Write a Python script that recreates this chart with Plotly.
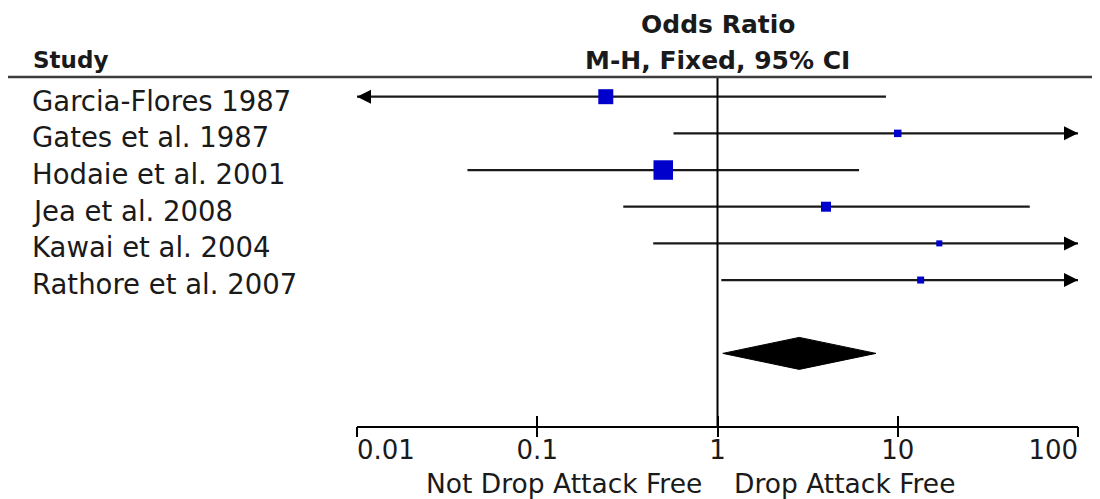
import numpy as np
import plotly.graph_objects as go

# ---- data ----
studies = ["Garcia-Flores 1987", "Gates et al. 1987", "Hodaie et al. 2001",
           "Jea et al. 2008", "Kawai et al. 2004", "Rathore et al. 2007"]
odds_ratio = [0.24, 10.0, 0.50, 4.0, 17.0, 13.4]
ci_lower = [0.0066, 0.57, 0.041, 0.30, 0.44, 1.05]
ci_upper = [8.6, 174.0, 6.1, 54.0, 660.0, 171.0]
weight_pct = [26.6, 6.6, 44.9, 11.8, 4.3, 5.8]

total_or = 2.84
total_lower = 1.07
total_upper = 7.57

tick_vals = [0.01, 0.1, 1, 10, 100]
tick_text = ["0.01", "0.1", "1", "10", "100"]

header_left = "Study"
header_title = "Odds Ratio"
header_sub = "M-H, Fixed, 95% CI"
favours_left = "Not Drop Attack Free"
favours_right = "Drop Attack Free"

# ---- layout constants ----
OFF = 8  # default page margin of the html body
W, H = 1100 - OFF, 499 - OFF
ML, MR, MT, MB = 357 - OFF, 22, 77 - OFF, 73
PW = W - ML - MR
PH = H - MT - MB
X_MIN, X_MAX = 0.01, 100
Y_TOP, Y_BOT = -0.537, 8.98
TOTAL_ROW = 7
FONT = "DejaVu Sans"
TXT = "#1a1a1a"
NB = "\u00a0"

def px_to_paper_x(px):
    return (px - OFF - ML) / PW

def px_to_paper_y(py):
    return 1 - (py - OFF - MT) / PH

# end labels kept inside the axis like the reference
shown_ticks = list(tick_text)
shown_ticks[0] = NB * 7 + shown_ticks[0]
shown_ticks[-1] = shown_ticks[-1] + NB * 6

rows = list(range(len(studies)))
fig = go.Figure()

# line of no effect
fig.add_trace(go.Scatter(x=[1, 1], y=[Y_TOP, Y_BOT], mode="lines",
                         line=dict(color="black", width=2), xaxis="x2",
                         hoverinfo="skip", showlegend=False))

# CI lines, clipped to the axis range
for r, lo, hi in zip(rows, ci_lower, ci_upper):
    fig.add_trace(go.Scatter(x=[max(lo, X_MIN), min(hi, X_MAX)], y=[r, r],
                             mode="lines", line=dict(color="#1a1a1a", width=2.2),
                             hoverinfo="skip", showlegend=False))

# arrows where CI exceeds range
left_rows = [r for r, lo in zip(rows, ci_lower) if lo < X_MIN]
right_rows = [r for r, hi in zip(rows, ci_upper) if hi > X_MAX]
fig.add_trace(go.Scatter(x=[X_MIN] * len(left_rows), y=left_rows, mode="markers",
                         marker=dict(symbol="arrow-left", size=14, color="black",
                                     opacity=1, line=dict(width=0)),
                         cliponaxis=False, hoverinfo="skip", showlegend=False))
fig.add_trace(go.Scatter(x=[X_MAX] * len(right_rows), y=right_rows, mode="markers",
                         marker=dict(symbol="arrow-right", size=14, color="black",
                                     opacity=1, line=dict(width=0)),
                         cliponaxis=False, hoverinfo="skip", showlegend=False))

# weighted squares
sizes = [2.91 * np.sqrt(w) for w in weight_pct]
fig.add_trace(go.Scatter(x=odds_ratio, y=rows, mode="markers",
                         marker=dict(symbol="square", size=sizes, color="#0000CC",
                                     opacity=1, line=dict(width=0)),
                         hoverinfo="skip", showlegend=False))

# pooled diamond
h = 0.436
fig.add_trace(go.Scatter(x=[total_lower, total_or, total_upper, total_or, total_lower],
                         y=[TOTAL_ROW, TOTAL_ROW - h, TOTAL_ROW, TOTAL_ROW + h, TOTAL_ROW],
                         mode="lines", fill="toself", fillcolor="black",
                         line=dict(color="black", width=1),
                         hoverinfo="skip", showlegend=False))

annotations = []
for r, s in zip(rows, studies):
    annotations.append(dict(text=s, xref="paper", yref="y", x=px_to_paper_x(30), y=r,
                            xanchor="left", yanchor="middle", yshift=-4, showarrow=False,
                            font=dict(family=FONT, size=27.5, color=TXT)))
annotations += [
    dict(text="<b>%s</b>" % header_left, xref="paper", yref="paper",
         x=px_to_paper_x(31), y=px_to_paper_y(60), xanchor="left", yanchor="middle",
         showarrow=False, font=dict(family=FONT, size=23, color=TXT)),
    dict(text="<b>%s</b>" % header_title, xref="x", yref="paper",
         x=0, y=px_to_paper_y(24), xanchor="center", yanchor="middle",
         showarrow=False, font=dict(family=FONT, size=25, color=TXT)),
    dict(text="<b>%s</b>" % header_sub, xref="x", yref="paper",
         x=0, y=px_to_paper_y(60), xanchor="center", yanchor="middle",
         showarrow=False, font=dict(family=FONT, size=25, color=TXT)),
    dict(text=favours_left, xref="x", yref="paper", x=0, y=px_to_paper_y(484),
         xanchor="right", yanchor="middle", xshift=-14, showarrow=False,
         font=dict(family=FONT, size=26.5, color=TXT)),
    dict(text=favours_right, xref="x", yref="paper", x=0, y=px_to_paper_y(484),
         xanchor="left", yanchor="middle", xshift=14, showarrow=False,
         font=dict(family=FONT, size=26.5, color=TXT)),
]

shapes = [dict(type="line", xref="paper", yref="paper",
               x0=px_to_paper_x(8), x1=px_to_paper_x(1100), y0=1, y1=1,
               line=dict(color="#3c3c3c", width=2.5))]

axis_common = dict(type="log", range=[np.log10(X_MIN), np.log10(X_MAX)],
                   tickvals=tick_vals, showgrid=False, zeroline=False,
                   tickcolor="black", tickwidth=2, ticklen=10, fixedrange=True,
                   automargin=False)

fig.update_layout(
    width=W, height=H,
    margin=dict(l=ML, r=MR, t=MT, b=MB, pad=0, autoexpand=False),
    paper_bgcolor="white", plot_bgcolor="white",
    xaxis=dict(**axis_common, ticktext=shown_ticks, ticks="inside",
               showline=True, linecolor="black", linewidth=2,
               ticklabeloverflow="allow",
               tickfont=dict(family=FONT, size=26, color=TXT)),
    xaxis2=dict(**axis_common, ticks="outside", overlaying="x", anchor="y",
                side="bottom", showticklabels=False, showline=False),
    yaxis=dict(range=[Y_BOT, Y_TOP], visible=False, fixedrange=True),
    annotations=annotations, shapes=shapes, showlegend=False,
)

fig.write_html("out.html")
